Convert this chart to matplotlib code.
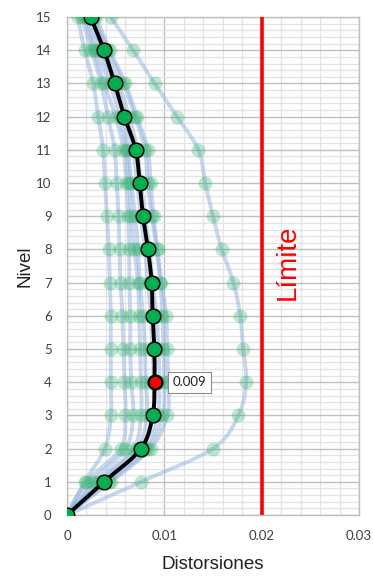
import numpy as np
import matplotlib
matplotlib.use('Agg')
import matplotlib.pyplot as plt

# levels 0..15
niveles = list(range(16))

# drift profiles of each record (x1e-3), level 0 .. 15
registros = [
    [0, 1.8, 3.9, 4.5, 4.5, 4.5, 4.5, 4.4, 4.3, 4.1, 3.9, 3.7, 3.2, 2.7, 1.8, 1.1],
    [0, 2.0, 5.5, 6.0, 5.9, 5.8, 5.7, 5.5, 5.4, 5.3, 5.1, 4.9, 4.2, 3.5, 2.5, 1.5],
    [0, 2.5, 6.0, 6.8, 6.6, 6.5, 6.5, 6.4, 6.4, 6.3, 6.1, 5.8, 5.0, 3.8, 2.8, 1.8],
    [0, 3.0, 6.8, 7.6, 7.6, 7.5, 7.4, 7.3, 6.9, 6.6, 6.4, 6.1, 5.4, 4.4, 3.0, 2.0],
    [0, 3.3, 7.2, 8.2, 8.1, 8.0, 7.8, 7.5, 7.3, 7.0, 6.6, 6.3, 5.8, 4.8, 3.4, 2.3],
    [0, 3.6, 7.6, 8.8, 8.9, 8.8, 8.6, 8.3, 8.0, 7.6, 7.2, 6.8, 6.0, 5.0, 3.6, 2.5],
    [0, 3.9, 8.0, 9.3, 9.5, 9.4, 9.2, 8.8, 8.5, 8.0, 7.6, 7.2, 6.4, 5.3, 3.9, 2.7],
    [0, 4.3, 8.3, 9.8, 10.0, 9.9, 9.8, 9.6, 9.2, 8.7, 8.3, 8.0, 7.0, 5.8, 4.2, 2.8],
    [0, 4.5, 8.6, 10.3, 10.4, 10.3, 10.2, 9.7, 9.3, 8.9, 8.6, 8.3, 7.2, 6.0, 4.4, 3.0],
    [0, 7.6, 15.0, 17.6, 18.4, 18.1, 17.8, 17.1, 15.9, 15.0, 14.2, 13.5, 11.3, 9.0, 6.8, 4.5],
]

# mean profile (x1e-3)
promedio = [0, 3.8, 7.6, 8.8, 9.0, 8.97, 8.8, 8.7, 8.32, 7.81, 7.47, 7.06, 5.9, 4.9, 3.8, 2.43]

limite = 0.02
nivel_max = 4


def suavizar(xs, ys, n=20):
    # bezier smoothing like the spreadsheet "smoothed line" option
    xs = np.asarray(xs, float)
    ys = np.asarray(ys, float)
    px, py = [], []
    for i in range(len(xs) - 1):
        i0 = max(i - 1, 0)
        i3 = min(i + 2, len(xs) - 1)
        c1x = xs[i] + (xs[i + 1] - xs[i0]) / 6
        c1y = ys[i] + (ys[i + 1] - ys[i0]) / 6
        c2x = xs[i + 1] - (xs[i3] - xs[i]) / 6
        c2y = ys[i + 1] - (ys[i3] - ys[i]) / 6
        t = np.linspace(0, 1, n)
        a, b, c, d = (1 - t) ** 3, 3 * t * (1 - t) ** 2, 3 * t ** 2 * (1 - t), t ** 3
        px.extend(a * xs[i] + b * c1x + c * c2x + d * xs[i + 1])
        py.extend(a * ys[i] + b * c1y + c * c2y + d * ys[i + 1])
    return px, py


fig = plt.figure(figsize=(3.73, 5.79), dpi=100)
ax = fig.add_axes([0.1796, 0.1105, 0.7829, 0.8601])

for r in registros:
    xr = [v / 1000 for v in r]
    sx, sy = suavizar(xr, niveles)
    ax.plot(sx, sy, color='#98b6e0', lw=2.8, alpha=0.55, zorder=2, solid_capstyle='round')
    ax.plot(xr, niveles, 'o', color='#2fb36a', ms=10, alpha=0.32, mec='none', zorder=3)

xm = [v / 1000 for v in promedio]
sx, sy = suavizar(xm, niveles)
ax.plot(sx, sy, color='black', lw=2.8, zorder=4)
ax.plot(xm, niveles, 'o', color='#00b050', ms=10.5, mec='black', mew=1.1, zorder=5)
ax.plot(xm[nivel_max], niveles[nivel_max], 'o', color='red', ms=9, mec='black', mew=0.8, zorder=6)
ax.annotate('%.3f' % round(xm[nivel_max], 3), xy=(xm[nivel_max], niveles[nivel_max]),
            xytext=(13, 0), textcoords='offset points', va='center', ha='left',
            fontsize=9.5, family='Lato', color='#222222',
            bbox=dict(boxstyle='square,pad=0.35', fc='white', ec='#8c8c8c', lw=0.8), zorder=7)

ax.axvline(limite, color='red', lw=2.6, zorder=4)
ax.text(0.0227, 7.6, 'Límite', color='red', rotation=90, ha='center', va='center',
        fontsize=20, family='Liberation Sans')

ax.set_xlim(0, 0.03)
ax.set_ylim(0, 15)
ax.set_xticks([0, 0.01, 0.02, 0.03])
ax.set_xticklabels(['0', '0.01', '0.02', '0.03'])
ax.set_yticks(niveles)
ax.set_xticks(np.arange(0, 0.0301, 0.002), minor=True)
ax.set_yticks(np.arange(0, 15.01, 0.2), minor=True)
ax.grid(which='minor', color='#e3e3e3', lw=0.9, zorder=0)
ax.grid(which='major', color='#bfbfbf', lw=1.0, zorder=1)
ax.set_axisbelow(True)
for s in ax.spines.values():
    s.set_color('#bfbfbf')
    s.set_linewidth(1.0)
ax.tick_params(which='both', length=0, labelsize=9.5, colors='#404040', labelfontfamily='Lato')
ax.tick_params(axis='x', pad=11)
ax.tick_params(axis='y', pad=11)

ax.set_xlabel('Distorsiones', fontsize=13.5, family='Liberation Sans', color='#222222', labelpad=10)
ax.set_ylabel('Nivel', fontsize=13.5, family='Liberation Sans', color='#222222', labelpad=2)

fig.savefig('out.png', dpi=100)
